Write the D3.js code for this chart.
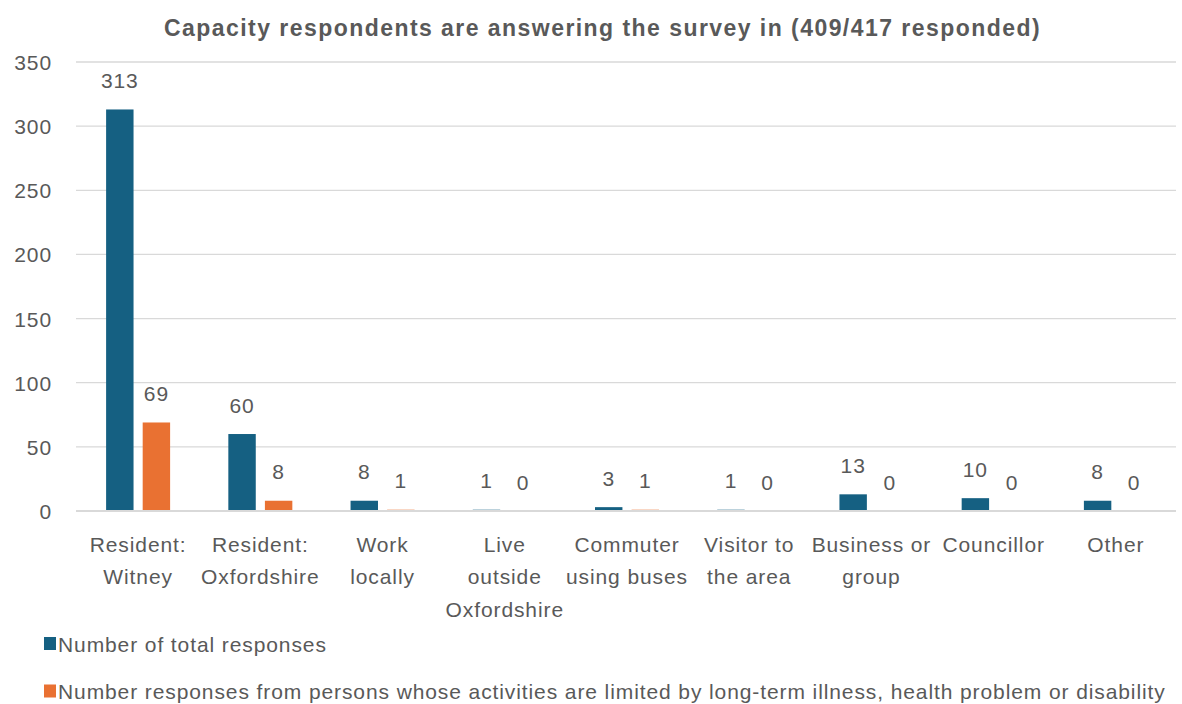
<!DOCTYPE html>
<html>
<head>
<meta charset="utf-8">
<script src="https://cdn.jsdelivr.net/npm/d3@7"></script>
<style>
  html, body { margin: 0; padding: 0; background: #ffffff; }
  svg { display: block; }
  text { font-family: "Liberation Sans", Arial, sans-serif; fill: #595959; letter-spacing: 0.9px; }
</style>
</head>
<body>
<svg id="chart" width="1182" height="704"></svg>
<script>
// Survey response counts by capacity
const categories = [
  ["Resident:", "Witney"],
  ["Resident:", "Oxfordshire"],
  ["Work", "locally"],
  ["Live", "outside", "Oxfordshire"],
  ["Commuter", "using buses"],
  ["Visitor to", "the area"],
  ["Business or", "group"],
  ["Councillor"],
  ["Other"]
];
const totalResponses   = [313, 60, 8, 1, 3, 1, 13, 10, 8];
const limitedResponses = [69, 8, 1, 0, 1, 0, 0, 0, 0];
const seriesNames = [
  "Number of total responses",
  "Number responses from persons whose activities are limited by long-term illness, health problem or disability"
];
const seriesColors = ["#156082", "#E97132"];
const yTicks = [0, 50, 100, 150, 200, 250, 300, 350];
const chartTitle = "Capacity respondents are answering the survey in (409/417 responded)";

const svg = d3.select("#chart");
const plot = { left: 77, right: 1177, top: 62, bottom: 511 };
const fs = 21;

const catKeys = categories.map(c => c.join(" "));
const x0 = d3.scaleBand().domain(catKeys).range([plot.left, plot.right]).padding(0);
const bw = x0.bandwidth();
const x1 = d3.scaleBand().domain([0, 1]).range([bw / 2 - 32, bw / 2 + 32]).paddingInner(0.25).paddingOuter(0);
const y = d3.scaleLinear().domain([0, 350]).range([plot.bottom, plot.top]);

// Title
svg.append("text")
  .attr("x", 602.5).attr("y", 36)
  .attr("text-anchor", "middle")
  .style("font-size", "23px").style("font-weight", "bold")
  .style("letter-spacing", "1.45px")
  .text(chartTitle);

// Horizontal gridlines (the zero line is drawn later, over the bars)
svg.append("g")
  .selectAll("line")
  .data(yTicks.filter(d => d !== 0))
  .join("line")
  .attr("x1", 76).attr("x2", 1176)
  .attr("y1", d => y(d)).attr("y2", d => y(d))
  .attr("stroke", "#d9d9d9").attr("stroke-width", 1.3);

// Y tick labels via d3 axis
const yAxis = d3.axisLeft(y).tickValues(yTicks).tickSize(0).tickPadding(0);
const gy = svg.append("g").attr("transform", "translate(52,0)").call(yAxis);
gy.attr("font-family", null).attr("font-size", null);
gy.select(".domain").remove();
gy.selectAll("text")
  .attr("x", 0).attr("dy", null)
  .attr("y", fs * 0.36)
  .attr("text-anchor", "end")
  .attr("fill", null)
  .style("font-size", fs + "px");

// Bars and value labels
const series = [totalResponses, limitedResponses];
const groups = svg.append("g")
  .selectAll("g")
  .data(catKeys)
  .join("g")
  .attr("transform", d => `translate(${x0(d)},0)`);

groups.each(function(key, i) {
  const g = d3.select(this);
  series.forEach((vals, s) => {
    const v = vals[i];
    g.append("rect")
      .attr("x", x1(s)).attr("width", x1.bandwidth())
      .attr("y", y(v)).attr("height", y(0) - y(v))
      .attr("fill", seriesColors[s]);
    g.append("text")
      .attr("x", x1(s) + x1.bandwidth() / 2)
      .attr("y", y(v) - 21.5)
      .attr("text-anchor", "middle")
      .style("font-size", fs + "px")
      .text(v);
  });
});

// Category axis line
svg.append("line")
  .attr("x1", 76).attr("x2", 1176)
  .attr("y1", y(0)).attr("y2", y(0))
  .attr("stroke", "#d9d9d9").attr("stroke-width", 2);

// Category labels
groups.each(function(key, i) {
  const t = d3.select(this).append("text")
    .attr("text-anchor", "middle")
    .style("font-size", fs + "px");
  categories[i].forEach((line, k) => {
    t.append("tspan")
      .attr("x", bw / 2)
      .attr("y", 551.5 + k * 32.5)
      .text(line);
  });
});

// Legend
const legend = svg.append("g");
seriesNames.forEach((name, s) => {
  const cy = 644 + s * 47.5;
  legend.append("rect")
    .attr("x", 44).attr("y", cy - 7).attr("width", 12).attr("height", 13)
    .attr("fill", seriesColors[s]);
  legend.append("text")
    .attr("x", 58).attr("y", cy + 7.5)
    .style("font-size", fs + "px")
    .text(name);
});
</script>
</body>
</html>
